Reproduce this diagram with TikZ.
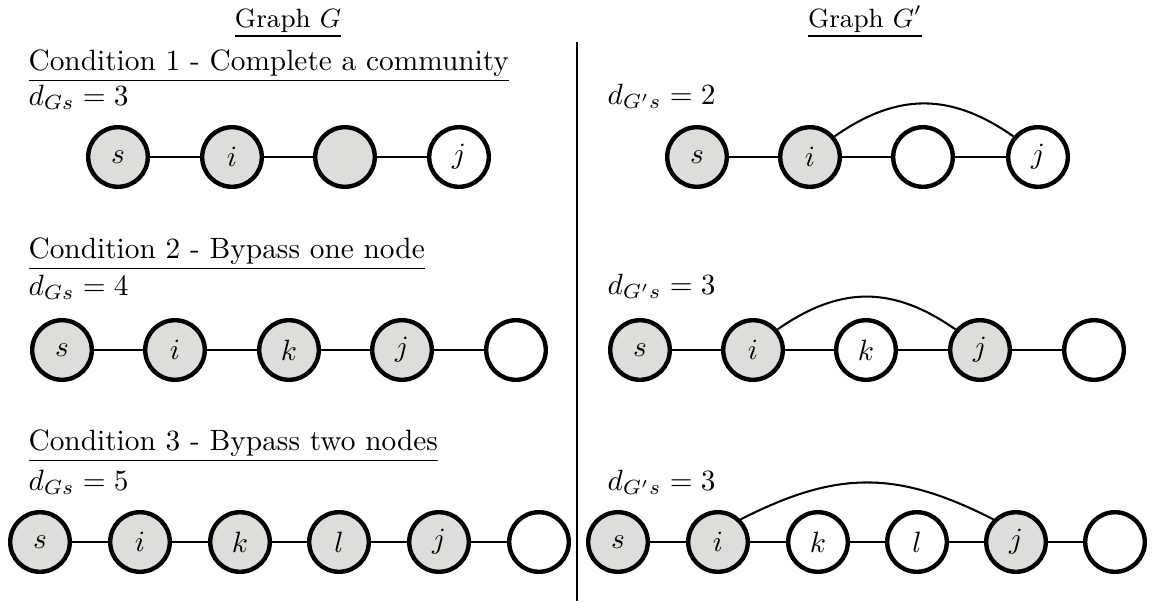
\documentclass[tikz,border=0pt]{standalone}
\usepackage{amsmath}
\definecolor{nodegray}{RGB}{221,221,218}
\begin{document}
\begin{tikzpicture}[x=0.3406pt,y=-0.3406pt,
  vtx/.style={circle, draw, line width=1.5pt, minimum size=20.3pt, inner sep=0pt},
  on/.style={vtx, fill=nodegray},
  off/.style={vtx, fill=white},
  edge/.style={line width=0.7pt},
  arcedge/.style={line width=0.7pt, looseness=1.1},
  hd/.style={anchor=base west, inner sep=0pt},
  ttl/.style={anchor=base, inner sep=0pt, font=\small}]
\useasboundingbox (0,0) rectangle (1153,601);

% titles and divider
\node[ttl] (tG) at (288,27) {\underline{Graph $G$}};
\node[ttl] (tGp) at (865,27) {\underline{Graph $G'$}};
\coordinate (vtop) at (577,42);
\coordinate (vbot) at (577,601);
\draw[line width=0.7pt] (vtop) -- (vbot);

% condition headings
\node[hd] (c1) at (28,70) {\underline{Condition 1 - Complete a community}};
\node[hd] (c2) at (28,258) {\underline{Condition 2 - Bypass one node}};
\node[hd] (c3) at (28,450) {\underline{Condition 3 - Bypass two nodes}};

\node[hd] (d1) at (28,105) {$d_{Gs}=3$};
\node[hd] (d2) at (28,295) {$d_{Gs}=4$};
\node[hd] (d3) at (28,490) {$d_{Gs}=5$};
\node[hd] (e1) at (607,104) {$d_{G's}=2$};
\node[hd] (e2) at (607,294) {$d_{G's}=3$};
\node[hd] (e3) at (607,490) {$d_{G's}=3$};

% Row 1 left
\node[on] (a1s) at (118,157) {$s$};
\node[on] (a1i) at (232,157) {$i$};
\node[on] (a1c) at (345,157) {};
\node[off] (a1j) at (459,157) {$j$};
\draw[edge] (a1s) -- (a1i) (a1i) -- (a1c) (a1c) -- (a1j);

% Row 1 right
\node[on] (b1s) at (697,157) {$s$};
\node[on] (b1i) at (810,157) {$i$};
\node[off] (b1c) at (923,157) {};
\node[off] (b1j) at (1038,157) {$j$};
\draw[edge] (b1s) -- (b1i) (b1i) -- (b1c) (b1c) -- (b1j);
\draw[arcedge] (b1i.40) to[out=35,in=145] (b1j.140);

% Row 2 left
\node[on] (a2s) at (62,350) {$s$};
\node[on] (a2i) at (175,350) {$i$};
\node[on] (a2k) at (289,350) {$k$};
\node[on] (a2j) at (402,350) {$j$};
\node[off] (a2e) at (516,350) {};
\draw[edge] (a2s) -- (a2i) (a2i) -- (a2k) (a2k) -- (a2j) (a2j) -- (a2e);

% Row 2 right
\node[on] (b2s) at (640,350) {$s$};
\node[on] (b2i) at (753,350) {$i$};
\node[off] (b2k) at (866,350) {$k$};
\node[on] (b2j) at (980,350) {$j$};
\node[off] (b2e) at (1094,350) {};
\draw[edge] (b2s) -- (b2i) (b2i) -- (b2k) (b2k) -- (b2j) (b2j) -- (b2e);
\draw[arcedge] (b2i.40) to[out=35,in=145] (b2j.140);

% Row 3 left
\node[on] (a3s) at (40,542) {$s$};
\node[on] (a3i) at (140,542) {$i$};
\node[on] (a3k) at (240,542) {$k$};
\node[on] (a3l) at (339,542) {$l$};
\node[on] (a3j) at (439,542) {$j$};
\node[off] (a3e) at (539,542) {};
\draw[edge] (a3s) -- (a3i) (a3i) -- (a3k) (a3k) -- (a3l) (a3l) -- (a3j) (a3j) -- (a3e);

% Row 3 right
\node[on] (b3s) at (618,542) {$s$};
\node[on] (b3i) at (718,542) {$i$};
\node[off] (b3k) at (818,542) {$k$};
\node[off] (b3l) at (917,542) {$l$};
\node[on] (b3j) at (1016,542) {$j$};
\node[off] (b3e) at (1115,542) {};
\draw[edge] (b3s) -- (b3i) (b3i) -- (b3k) (b3k) -- (b3l) (b3l) -- (b3j) (b3j) -- (b3e);
\draw[arcedge] (b3i.45) to[out=27,in=153] (b3j.135);
\end{tikzpicture}
\end{document}
